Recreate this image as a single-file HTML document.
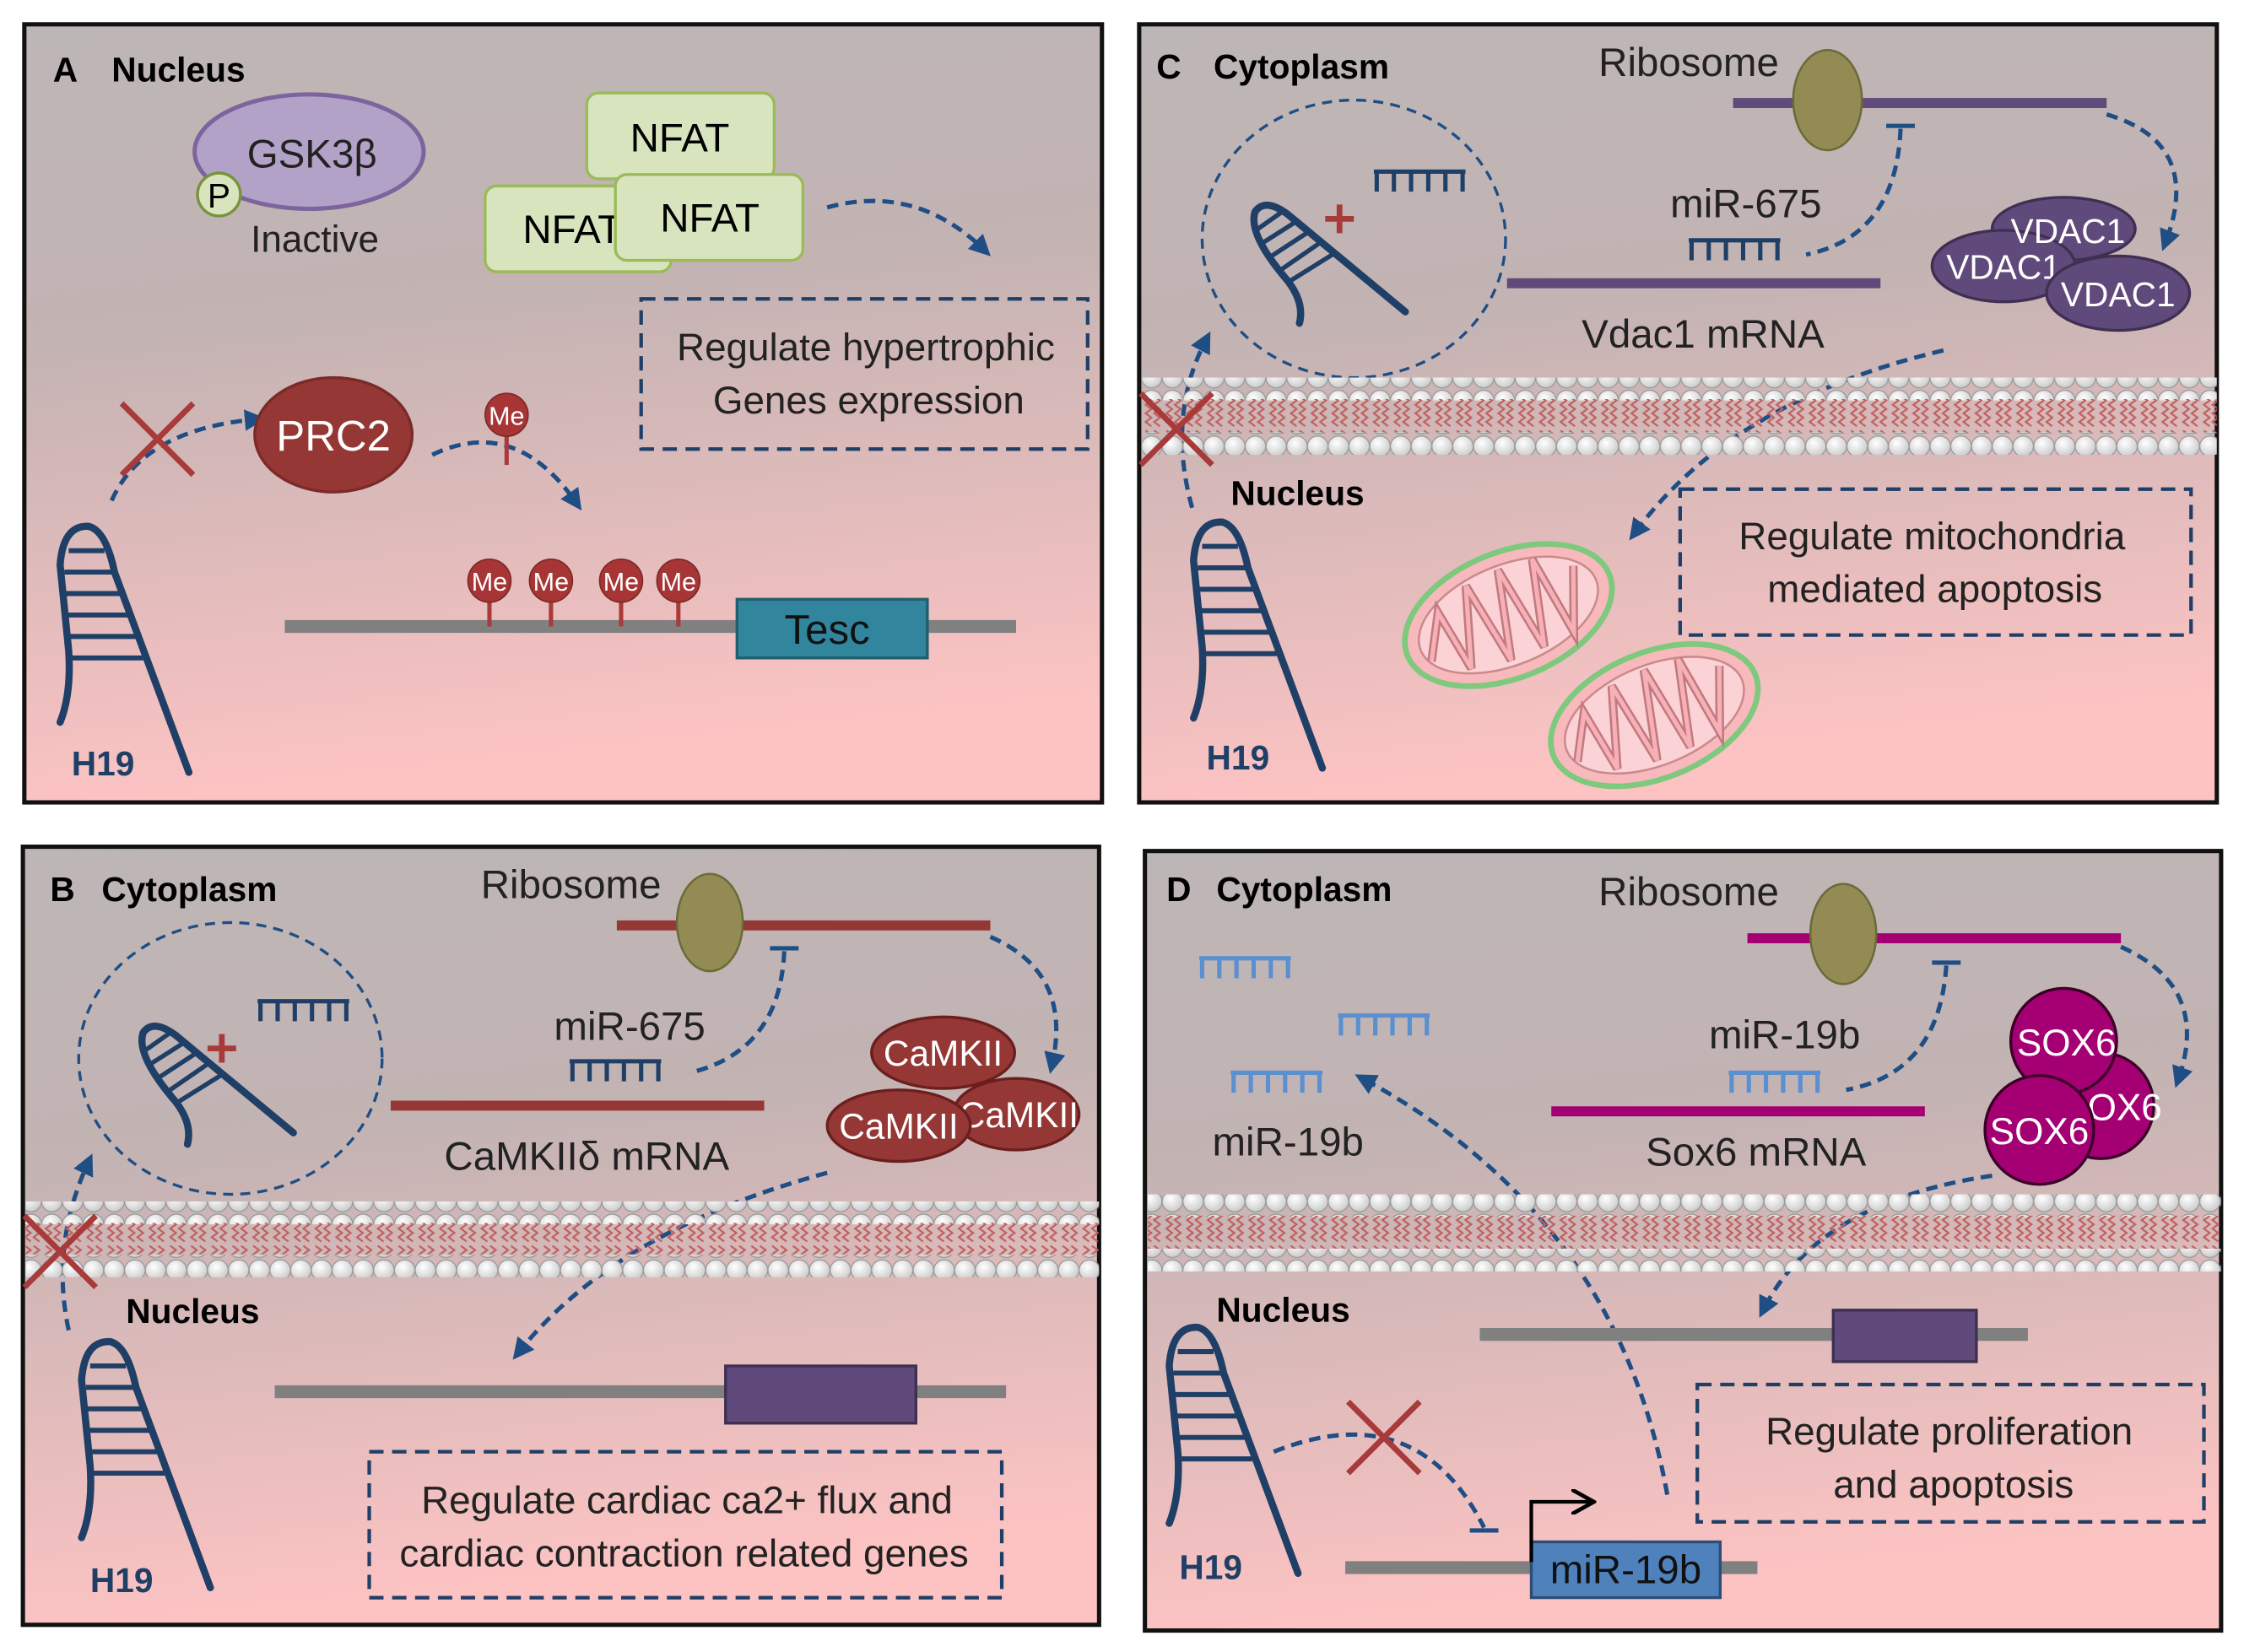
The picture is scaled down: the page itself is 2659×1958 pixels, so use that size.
<!DOCTYPE html>
<html><head><meta charset="utf-8"><style>
html,body{margin:0;padding:0;background:#fff;}
svg{display:block;}
text{font-family:"Liberation Sans","DejaVu Sans",sans-serif;}
</style></head><body>
<svg width="2659" height="1958" viewBox="0 0 1568 1155" preserveAspectRatio="none" xmlns="http://www.w3.org/2000/svg">
<defs>
<linearGradient id="bg" x1="0" y1="0" x2="0.15" y2="1">
<stop offset="0" stop-color="#bdb6b6"/><stop offset="0.4" stop-color="#c3b3b3"/><stop offset="1" stop-color="#fdc3c3"/>
</linearGradient>
<radialGradient id="dg" cx="0.4" cy="0.35" r="0.7">
<stop offset="0" stop-color="#ffffff"/><stop offset="1" stop-color="#c8c8c8"/>
</radialGradient>
<pattern id="dots" width="14.5" height="16" patternUnits="userSpaceOnUse">
<circle cx="7.25" cy="8" r="7.2" fill="url(#dg)" stroke="#9a9a9a" stroke-width="0.8"/>
</pattern>
<pattern id="zig" width="14.5" height="30" patternUnits="userSpaceOnUse">
<path d="M3,1 l4,3 l-4,3 l4,3 l-4,3 l4,3 l-4,3 l4,3 l-4,3 l4,3 M9,1 l4,3 l-4,3 l4,3 l-4,3 l4,3 l-4,3 l4,3 l-4,3 l4,3" fill="none" stroke="#c06060" stroke-width="1.3"/>
</pattern>
<marker id="ah" viewBox="0 0 10 10" refX="6" refY="5" markerWidth="5" markerHeight="5" orient="auto-start-reverse">
<path d="M0,0 L10,5 L0,10 z" fill="#1f4e85"/>
</marker>
<marker id="ahk" viewBox="0 0 10 10" refX="8" refY="5" markerWidth="7" markerHeight="7" orient="auto">
<path d="M0,0 L9,5 L0,10" fill="none" stroke="#000" stroke-width="1.6"/>
</marker>
<g id="hp">
<path d="M2,140 Q10,120 8,90 L2,30 Q4,2 22,3 Q34,6 40,35 L92,175" fill="none" stroke="#1f3f66" stroke-width="5" stroke-linecap="round"/>
<path d="M8,20 L33,20 M5,35 L40,35 M4,50 L45,50 M4,65 L50,65 M5,80 L55,80 M6,95 L60,95" stroke="#1f3f66" stroke-width="3.5"/>
</g>
<g id="hps">
<path d="M56,88 Q60,72 45,55 Q20,25 25,10 Q32,0 48,12 L130,80" fill="none" stroke="#1f3f66" stroke-width="5" stroke-linecap="round"/>
<path d="M27,22 L44,10 M30,32 L52,18 M35,42 L61,25 M41,52 L70,32 M47,60 L79,40" stroke="#1f3f66" stroke-width="3.2"/>
</g>
<g id="mi"><path d="M0,0 H64 M2,0 V14 M14,0 V14 M26,0 V14 M38,0 V14 M50,0 V14 M62,0 V14" fill="none" stroke="#1f3f66" stroke-width="3"/></g>
<g id="mib"><path d="M0,0 H64 M2,0 V14 M14,0 V14 M26,0 V14 M38,0 V14 M50,0 V14 M62,0 V14" fill="none" stroke="#5a8fd0" stroke-width="3"/></g>
<g id="x"><path d="M-25,-25 L25,25 M-25,25 L25,-25" stroke="#a83a3a" stroke-width="4"/></g>
<g id="mito">
<ellipse cx="0" cy="0" rx="76" ry="44" fill="#f8b9bd" stroke="#7fc97f" stroke-width="4"/>
<ellipse cx="0" cy="0" rx="66" ry="35" fill="#fbd2d6" stroke="#c98a8e" stroke-width="1.5"/>
<path d="M-62,10 L-45,-20 L-38,25 L-20,-30 L-10,30 L5,-32 L15,30 L30,-30 L38,28 L55,-15" fill="none" stroke="#c07a80" stroke-width="6"/>
<path d="M-62,10 L-45,-20 L-38,25 L-20,-30 L-10,30 L5,-32 L15,30 L30,-30 L38,28 L55,-15" fill="none" stroke="#f6b0b6" stroke-width="3"/>
</g>
</defs>
<rect width="1568" height="1155" fill="#fff"/>
<g stroke="#111" stroke-width="3">
<rect x="17" y="17" width="753" height="544" fill="url(#bg)"/>
<rect x="796" y="17" width="753" height="544" fill="url(#bg)"/>
<rect x="16" y="592" width="752" height="544" fill="url(#bg)"/>
<rect x="800" y="595" width="752" height="545" fill="url(#bg)"/>
</g>

<!-- ===== A ===== -->
<text x="37" y="57" font-size="24" font-weight="bold">A</text>
<text x="78" y="57" font-size="24" font-weight="bold">Nucleus</text>
<ellipse cx="216" cy="106" rx="80" ry="40" fill="#b3a2c7" stroke="#7e649e" stroke-width="3"/>
<text x="218" y="117" font-size="28" text-anchor="middle" fill="#222">GSK3β</text>
<circle cx="153" cy="136" r="15" fill="#d7e4bd" stroke="#77933c" stroke-width="2"/>
<text x="153" y="145" font-size="24" text-anchor="middle">P</text>
<text x="220" y="176" font-size="26" text-anchor="middle" fill="#222">Inactive</text>
<g fill="#d7e4bd" stroke="#9bbb59" stroke-width="2">
<rect x="410" y="65" width="131" height="60" rx="8"/>
<rect x="339" y="130" width="130" height="60" rx="8"/>
</g>
<text x="475" y="106" font-size="28" text-anchor="middle">NFAT</text>
<text x="400" y="170" font-size="28" text-anchor="middle">NFAT</text>
<rect x="430" y="122" width="131" height="60" rx="8" fill="#d7e4bd" stroke="#9bbb59" stroke-width="2"/>
<text x="496" y="162" font-size="28" text-anchor="middle">NFAT</text>
<g fill="none" stroke="#1f4e85" stroke-width="3" stroke-dasharray="8,5">
<path d="M578,145 Q640,128 688,175" marker-end="url(#ah)"/>
<path d="M78,350 Q100,300 180,293" marker-end="url(#ah)"/>
<path d="M302,318 Q360,290 403,352" marker-end="url(#ah)"/>
</g>
<rect x="448" y="209" width="312" height="105" fill="none" stroke="#1f3f66" stroke-width="2.5" stroke-dasharray="10,6"/>
<text x="605" y="252" font-size="27" text-anchor="middle" fill="#222">Regulate hypertrophic</text>
<text x="607" y="289" font-size="27" text-anchor="middle" fill="#222">Genes expression</text>
<use href="#x" transform="translate(110,307)"/>
<ellipse cx="233" cy="304" rx="55" ry="40" fill="#953735" stroke="#7a2a28" stroke-width="2"/>
<text x="233" y="315" font-size="30" text-anchor="middle" fill="#fff">PRC2</text>
<g>
<line x1="354" y1="290" x2="354" y2="325" stroke="#a83a3a" stroke-width="3"/>
<circle cx="354" cy="290" r="15" fill="#a83535" stroke="#7a2a28"/>
<text x="354" y="297" font-size="18" text-anchor="middle" fill="#fff">Me</text>
</g>
<line x1="199" y1="438" x2="710" y2="438" stroke="#808080" stroke-width="9"/>
<g stroke="#a83a3a" stroke-width="3">
<line x1="342" y1="406" x2="342" y2="438"/><line x1="385" y1="406" x2="385" y2="438"/><line x1="434" y1="406" x2="434" y2="438"/><line x1="474" y1="406" x2="474" y2="438"/>
</g>
<g fill="#a83535" stroke="#7a2a28">
<circle cx="342" cy="406" r="15"/><circle cx="385" cy="406" r="15"/><circle cx="434" cy="406" r="15"/><circle cx="474" cy="406" r="15"/>
</g>
<g font-size="18" text-anchor="middle" fill="#fff">
<text x="342" y="413">Me</text><text x="385" y="413">Me</text><text x="434" y="413">Me</text><text x="474" y="413">Me</text>
</g>
<rect x="515" y="419" width="133" height="41" fill="#31859c" stroke="#215e6e" stroke-width="2"/>
<text x="578" y="450" font-size="29" text-anchor="middle" fill="#111">Tesc</text>
<use href="#hp" transform="translate(40,365)"/>
<text x="50" y="542" font-size="24" font-weight="bold" fill="#1f3f66">H19</text>

<!-- ===== B ===== -->
<text x="35" y="630" font-size="24" font-weight="bold">B</text>
<text x="71" y="630" font-size="24" font-weight="bold">Cytoplasm</text>
<text x="399" y="628" font-size="28" text-anchor="middle" fill="#222">Ribosome</text>
<line x1="431" y1="647" x2="692" y2="647" stroke="#953735" stroke-width="7"/>
<ellipse cx="496" cy="645" rx="23" ry="34" fill="#948a54" stroke="#6b6b3a" stroke-width="1.5"/>
<g fill="none" stroke="#1f4e85" stroke-width="3" stroke-dasharray="8,5">
<path d="M548,665 Q545,735 482,750"/>
<path d="M692,655 Q750,680 735,745" marker-end="url(#ah)"/>
<path d="M578,820 Q430,860 362,946" marker-end="url(#ah)"/>
<path d="M48,930 Q35,870 62,812" marker-end="url(#ah)"/>
</g>
<line x1="538" y1="663" x2="558" y2="663" stroke="#1f4e85" stroke-width="3"/>
<text x="440" y="727" font-size="28" text-anchor="middle" fill="#222">miR-675</text>
<use href="#mi" transform="translate(398,742)"/>
<line x1="273" y1="773" x2="534" y2="773" stroke="#953735" stroke-width="7"/>
<text x="410" y="818" font-size="28" text-anchor="middle" fill="#222">CaMKIIδ mRNA</text>
<ellipse cx="161" cy="740" rx="106" ry="95" fill="none" stroke="#1f4e85" stroke-width="2" stroke-dasharray="7,5"/>
<use href="#hps" transform="translate(75,712)"/>
<path d="M145,733 H165 M155,723 V743" stroke="#a83a3a" stroke-width="4"/>
<use href="#mi" transform="translate(180,700)"/>
<g fill="#953735" stroke="#6a1f1e" stroke-width="2">
<ellipse cx="659" cy="736" rx="50" ry="25"/>
<ellipse cx="710" cy="779" rx="44" ry="25"/>
</g>
<text x="659" y="745" font-size="25" text-anchor="middle" fill="#fff">CaMKII</text>
<text x="712" y="788" font-size="25" text-anchor="middle" fill="#fff">CaMKII</text>
<ellipse cx="628" cy="787" rx="50" ry="25" fill="#953735" stroke="#6a1f1e" stroke-width="2"/>
<text x="628" y="796" font-size="25" text-anchor="middle" fill="#fff">CaMKII</text>
<rect x="18" y="840" width="750" height="16" fill="url(#dots)"/>
<rect x="18" y="855" width="750" height="23" fill="url(#zig)"/>
<rect x="18" y="877" width="750" height="16" fill="url(#dots)"/>
<use href="#x" transform="translate(42,875)"/>
<text x="88" y="925" font-size="24" font-weight="bold">Nucleus</text>
<line x1="192" y1="973" x2="703" y2="973" stroke="#808080" stroke-width="9"/>
<rect x="507" y="955" width="133" height="40" fill="#604a7b" stroke="#3f3052" stroke-width="2"/>
<rect x="258" y="1015" width="442" height="102" fill="none" stroke="#1f3f66" stroke-width="2.5" stroke-dasharray="10,6"/>
<text x="480" y="1058" font-size="27" text-anchor="middle" fill="#222">Regulate cardiac ca2+ flux and</text>
<text x="478" y="1095" font-size="27" text-anchor="middle" fill="#222">cardiac contraction related genes</text>
<use href="#hp" transform="translate(55,935)"/>
<text x="63" y="1113" font-size="24" font-weight="bold" fill="#1f3f66">H19</text>

<!-- ===== C ===== -->
<text x="808" y="55" font-size="24" font-weight="bold">C</text>
<text x="848" y="55" font-size="24" font-weight="bold">Cytoplasm</text>
<text x="1180" y="53" font-size="28" text-anchor="middle" fill="#222">Ribosome</text>
<line x1="1211" y1="72" x2="1472" y2="72" stroke="#604a7b" stroke-width="7"/>
<ellipse cx="1277" cy="70" rx="24" ry="35" fill="#948a54" stroke="#6b6b3a" stroke-width="1.5"/>
<g fill="none" stroke="#1f4e85" stroke-width="3" stroke-dasharray="8,5">
<path d="M1328,90 Q1325,165 1262,178"/>
<path d="M1472,80 Q1540,100 1513,170" marker-end="url(#ah)"/>
<path d="M1358,245 Q1210,280 1142,373" marker-end="url(#ah)"/>
<path d="M833,355 Q815,290 843,237" marker-end="url(#ah)"/>
</g>
<line x1="1318" y1="88" x2="1338" y2="88" stroke="#1f4e85" stroke-width="3"/>
<text x="1220" y="152" font-size="28" text-anchor="middle" fill="#222">miR-675</text>
<use href="#mi" transform="translate(1180,168)"/>
<line x1="1053" y1="198" x2="1314" y2="198" stroke="#604a7b" stroke-width="7"/>
<text x="1190" y="243" font-size="28" text-anchor="middle" fill="#222">Vdac1 mRNA</text>
<ellipse cx="946" cy="167" rx="106" ry="97" fill="none" stroke="#1f4e85" stroke-width="2" stroke-dasharray="7,5"/>
<use href="#hps" transform="translate(852,138)"/>
<path d="M926,153 H946 M936,143 V163" stroke="#a83a3a" stroke-width="4"/>
<use href="#mi" transform="translate(960,120)"/>
<g fill="#604a7b" stroke="#3f3052" stroke-width="2">
<ellipse cx="1442" cy="160" rx="50" ry="22"/>
<ellipse cx="1400" cy="186" rx="50" ry="25"/>
</g>
<text x="1445" y="170" font-size="24" text-anchor="middle" fill="#fff">VDAC1</text>
<text x="1400" y="195" font-size="24" text-anchor="middle" fill="#fff">VDAC1</text>
<ellipse cx="1480" cy="205" rx="50" ry="26" fill="#604a7b" stroke="#3f3052" stroke-width="2"/>
<text x="1480" y="214" font-size="24" text-anchor="middle" fill="#fff">VDAC1</text>
<rect x="798" y="264" width="751" height="16" fill="url(#dots)"/>
<rect x="798" y="279" width="751" height="24" fill="url(#zig)"/>
<rect x="798" y="302" width="751" height="16" fill="url(#dots)"/>
<use href="#x" transform="translate(822,300)"/>
<text x="860" y="353" font-size="24" font-weight="bold">Nucleus</text>
<rect x="1174" y="342" width="357" height="102" fill="none" stroke="#1f3f66" stroke-width="2.5" stroke-dasharray="10,6"/>
<text x="1350" y="384" font-size="27" text-anchor="middle" fill="#222">Regulate mitochondria</text>
<text x="1352" y="421" font-size="27" text-anchor="middle" fill="#222">mediated apoptosis</text>
<use href="#mito" transform="translate(1054,430) rotate(-22)"/>
<use href="#mito" transform="translate(1156,500) rotate(-22)"/>
<use href="#hp" transform="translate(832,362)"/>
<text x="843" y="538" font-size="24" font-weight="bold" fill="#1f3f66">H19</text>

<!-- ===== D ===== -->
<text x="815" y="630" font-size="24" font-weight="bold">D</text>
<text x="850" y="630" font-size="24" font-weight="bold">Cytoplasm</text>
<text x="1180" y="633" font-size="28" text-anchor="middle" fill="#222">Ribosome</text>
<line x1="1221" y1="656" x2="1482" y2="656" stroke="#a50073" stroke-width="7"/>
<ellipse cx="1288" cy="653" rx="23" ry="35" fill="#948a54" stroke="#6b6b3a" stroke-width="1.5"/>
<g fill="none" stroke="#1f4e85" stroke-width="3" stroke-dasharray="8,5">
<path d="M1360,675 Q1355,750 1290,762"/>
<path d="M1482,662 Q1545,690 1522,755" marker-end="url(#ah)"/>
<path d="M1392,822 Q1270,840 1232,916" marker-end="url(#ah)"/>
<path d="M1165,1045 Q1130,850 952,754" marker-end="url(#ah)"/>
<path d="M890,1015 Q990,975 1037,1068"/>
</g>
<line x1="1350" y1="673" x2="1370" y2="673" stroke="#1f4e85" stroke-width="3"/>
<line x1="1027" y1="1070" x2="1047" y2="1070" stroke="#1f4e85" stroke-width="3"/>
<text x="1247" y="733" font-size="28" text-anchor="middle" fill="#222">miR-19b</text>
<use href="#mib" transform="translate(1208,750)"/>
<line x1="1084" y1="777" x2="1345" y2="777" stroke="#a50073" stroke-width="7"/>
<text x="1227" y="815" font-size="28" text-anchor="middle" fill="#222">Sox6 mRNA</text>
<g stroke="#3a0028" stroke-width="2" fill="#a50073">
<circle cx="1468" cy="773" r="37"/>
<circle cx="1442" cy="728" r="37"/>
</g>
<text x="1476" y="783" font-size="26" text-anchor="middle" fill="#fff">SOX6</text>
<text x="1444" y="738" font-size="26" text-anchor="middle" fill="#fff">SOX6</text>
<circle cx="1425" cy="790" r="38" fill="#a50073" stroke="#3a0028" stroke-width="2"/>
<text x="1425" y="800" font-size="26" text-anchor="middle" fill="#fff">SOX6</text>
<use href="#mib" transform="translate(838,670)"/>
<use href="#mib" transform="translate(935,710)"/>
<use href="#mib" transform="translate(860,750)"/>
<text x="900" y="808" font-size="28" text-anchor="middle" fill="#222">miR-19b</text>
<rect x="802" y="835" width="750" height="16" fill="url(#dots)"/>
<rect x="802" y="850" width="750" height="24" fill="url(#zig)"/>
<rect x="802" y="873" width="750" height="16" fill="url(#dots)"/>
<text x="850" y="924" font-size="24" font-weight="bold">Nucleus</text>
<line x1="1034" y1="933" x2="1417" y2="933" stroke="#808080" stroke-width="9"/>
<rect x="1281" y="916" width="100" height="36" fill="#604a7b" stroke="#3f3052" stroke-width="2"/>
<rect x="1186" y="968" width="354" height="96" fill="none" stroke="#1f3f66" stroke-width="2.5" stroke-dasharray="10,6"/>
<text x="1362" y="1010" font-size="27" text-anchor="middle" fill="#222">Regulate proliferation</text>
<text x="1365" y="1047" font-size="27" text-anchor="middle" fill="#222">and apoptosis</text>
<use href="#x" transform="translate(967,1005)"/>
<line x1="940" y1="1096" x2="1228" y2="1096" stroke="#808080" stroke-width="9"/>
<rect x="1070" y="1078" width="132" height="39" fill="#4f81bd" stroke="#2c4d75" stroke-width="2"/>
<text x="1136" y="1107" font-size="28" text-anchor="middle" fill="#111">miR-19b</text>
<path d="M1070,1092 L1070,1050 L1112,1050" fill="none" stroke="#000" stroke-width="2.5" marker-end="url(#ahk)"/>
<use href="#hp" transform="translate(815,925)"/>
<text x="824" y="1104" font-size="24" font-weight="bold" fill="#1f3f66">H19</text>
</svg>
</body></html>
